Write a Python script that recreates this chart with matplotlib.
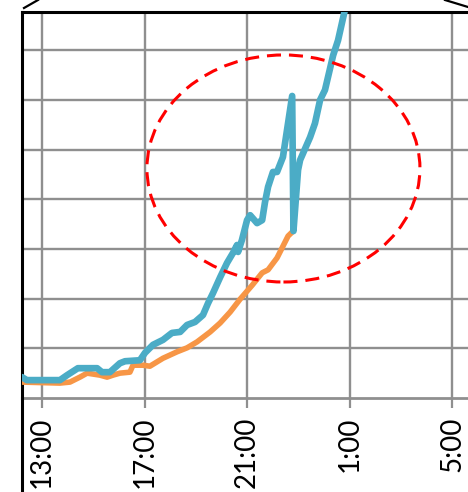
import matplotlib
matplotlib.use("Agg")
import matplotlib.pyplot as plt
from matplotlib.patches import Ellipse
from matplotlib.lines import Line2D

# Time axis: hours after 12:00 (13:00 -> 1, 1:00 next day -> 13)
tick_pos = [1, 5, 9, 13, 17]
tick_labels = ["13:00", "17:00", "21:00", "1:00", "5:00"]

# Blue series
blue_t = [0.22, 0.41, 1.70, 1.98, 2.40, 3.15, 3.34, 3.65, 4.04, 4.24, 4.82, 5.02,
          5.33, 5.72, 6.07, 6.39, 6.66, 6.97, 7.28, 7.48, 7.67, 7.95, 8.22, 8.45,
          8.61, 8.65, 8.80, 9.00, 9.12, 9.39, 9.59, 9.70, 9.82, 10.01, 10.17,
          10.40, 10.76, 10.81, 10.99, 11.07, 11.46, 11.65, 11.85, 12.04, 12.36,
          12.55, 12.79, 12.86]
blue_v = [0.42, 0.36, 0.36, 0.46, 0.60, 0.60, 0.52, 0.52, 0.70, 0.74, 0.76, 0.91,
          1.07, 1.17, 1.31, 1.33, 1.47, 1.53, 1.67, 1.91, 2.11, 2.43, 2.72, 2.92,
          3.08, 2.94, 3.18, 3.58, 3.68, 3.52, 3.58, 3.94, 4.25, 4.55, 4.55,
          4.85, 6.08, 3.36, 4.59, 4.79, 5.25, 5.53, 6.00, 6.20, 6.90,
          7.20, 7.75, 7.91]

# Orange series
orange_t = [0.22, 1.70, 2.09, 2.48, 2.76, 3.26, 3.54, 3.77, 4.04, 4.43, 4.55, 4.94,
            5.21, 5.72, 6.27, 6.66, 7.05, 7.56, 7.95, 8.34, 8.73, 9.20, 9.59, 9.82,
            10.17, 10.60, 10.80]
orange_v = [0.32, 0.30, 0.32, 0.42, 0.50, 0.46, 0.42, 0.46, 0.50, 0.52, 0.66, 0.66,
            0.64, 0.80, 0.93, 1.01, 1.13, 1.33, 1.51, 1.73, 1.99, 2.27, 2.52, 2.58,
            2.82, 3.26, 3.36]

# Highlighted region (center, width, height)
ell_center = (10.42, 4.62)
ell_size = (10.65, 4.57)

W, H = 468, 492
fig = plt.figure(figsize=(W / 100, H / 100), dpi=100)
ax = fig.add_axes([22 / W, 1 - 398 / H, 1 - 22 / W, (398 - 12) / H])
ax.set_xlim(0.22, 17.62)
ax.set_ylim(0, 7.77)

grid_col = "#8f8f8f"
ax.set_xticks(tick_pos)
ax.set_xticklabels(tick_labels, rotation=90, fontsize=20, family=["Lato", "DejaVu Sans"])
ax.set_yticks(range(1, 8))
ax.tick_params(axis="y", length=0, labelleft=False)
ax.tick_params(axis="x", length=7.5, width=1.6, color=grid_col, pad=6, direction="out")
ax.grid(True, color=grid_col, linewidth=1.7)
ax.set_axisbelow(True)

ax.spines["right"].set_visible(False)
ax.spines["top"].set_color("black")
ax.spines["top"].set_linewidth(2.2)
ax.spines["left"].set_color("black")
ax.spines["left"].set_linewidth(2.2)
ax.spines["bottom"].set_color(grid_col)
ax.spines["bottom"].set_linewidth(2.0)

ax.plot(orange_t, orange_v, color="#F79646", linewidth=4.0,
        solid_joinstyle="round", solid_capstyle="round", zorder=3)
ax.plot(blue_t, blue_v, color="#4BACC6", linewidth=4.8,
        solid_joinstyle="round", solid_capstyle="round", zorder=4)

ell = Ellipse(ell_center, ell_size[0], ell_size[1], fill=False, edgecolor="#FF0000",
              linewidth=2.2, linestyle=(0, (4.6, 2.6)), zorder=5)
ax.add_patch(ell)

# left axis line continues below the plot area
fig.add_artist(Line2D([22 / W, 22 / W], [0, 1 - 398 / H], color="black",
                      linewidth=2.2, transform=fig.transFigure))
# connector strokes above the frame
fig.add_artist(Line2D([24 / W, 38 / W], [1 - 8 / H, 1.0], color="black",
                      linewidth=1.6, transform=fig.transFigure))
fig.add_artist(Line2D([445 / W, 468 / W], [1.0, 1 - 7 / H], color="black",
                      linewidth=1.6, transform=fig.transFigure))

fig.savefig("out.png", dpi=100)
